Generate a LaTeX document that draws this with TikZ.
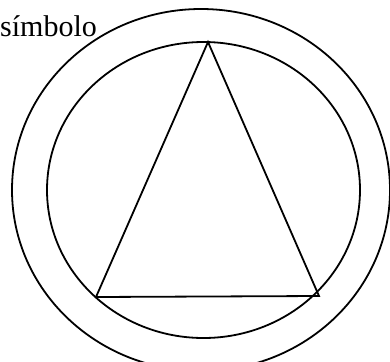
\documentclass[tikz,border=0pt]{standalone}
\usepackage{fontspec}
\setmainfont{Liberation Serif}
\begin{document}
\begin{tikzpicture}[
  x=1pt, y=-1pt,
  ring/.style={draw, line width=1.8pt},
  side/.style={draw, line width=1.8pt},
  caption/.style={font=\fontsize{30}{36}\selectfont, inner sep=0pt, anchor=base west}
]
\useasboundingbox (0,0) rectangle (390,361);
\node[caption] (word) at (0,36.5) {símbolo};
\draw[ring] (201,190) ellipse [x radius=189, y radius=181];
\draw[ring] (203.5,190) ellipse [x radius=156.5, y radius=148];
\coordinate (apex) at (208,42);
\coordinate (leftc) at (96,297);
\coordinate (rightc) at (319,296);
\draw[side] (apex) -- (leftc) -- (rightc) -- cycle;
\end{tikzpicture}
\end{document}
